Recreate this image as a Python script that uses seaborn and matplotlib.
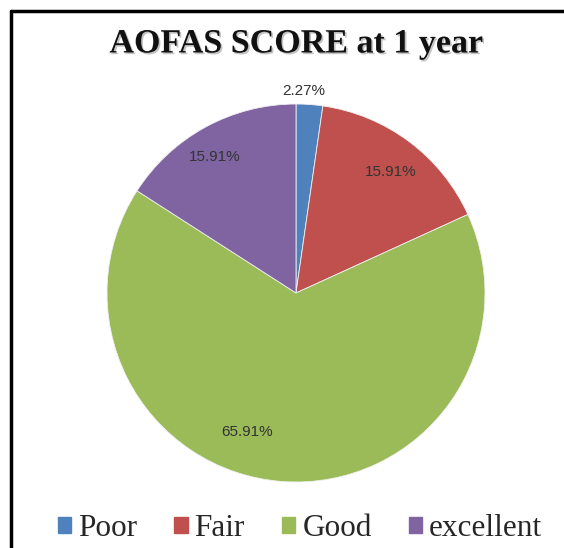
import matplotlib
matplotlib.use("Agg")
import matplotlib.pyplot as plt
import matplotlib.patheffects as pe
from matplotlib.lines import Line2D
import seaborn as sns
import numpy as np

categories = ["Poor", "Fair", "Good", "excellent"]
values = [2.27, 15.91, 65.91, 15.91]
colors = ["#4F81BD", "#C0504D", "#9BBB59", "#8064A2"]
title = "AOFAS SCORE at 1 year"

sns.set_theme(style="white")
plt.rcParams['font.family'] = ['Liberation Serif', 'DejaVu Serif']

fig = plt.figure(figsize=(5.64, 5.48), dpi=100)
ax = fig.add_axes([0, 0, 1, 1])

cx, cy, r = 296, 548 - 293, 189
wedges, texts, autotexts = ax.pie(
    values, colors=colors, startangle=90, counterclock=False,
    center=(cx, cy), radius=r, autopct=lambda p: f"{p:.2f}%",
    pctdistance=0.8, frame=True,
    wedgeprops=dict(edgecolor="#f0f0f0", linewidth=0.6),
    textprops=dict(fontsize=11, color="#333333", family=['Liberation Sans']))
ax.set_xlim(0, 564)
ax.set_ylim(0, 548)
ax.set_aspect('equal')
ax.axis('off')

# label placement (radius fraction, angle in degrees) like Excel best fit
label_pos = [(1.07, 87.7), (0.81, 52.0), (0.78, -109.5), (0.84, 121.0)]
for t, (rf, ang) in zip(autotexts, label_pos):
    a = np.deg2rad(ang)
    t.set_position((cx + rf * r * np.cos(a), cy + rf * r * np.sin(a)))

fig.text(0.525, 1 - 44 / 548, title, ha='center', va='center',
         fontsize=24.5, fontweight='bold', family=['Liberation Serif'],
         color='#111111',
         path_effects=[pe.withSimplePatchShadow(offset=(1.2, -1.2), alpha=0.35, shadow_rgbFace='#555555')])

handles = [plt.Rectangle((0, 0), 1, 1, color=c) for c in colors]
leg = fig.legend(handles, categories, loc='center', bbox_to_anchor=(300 / 564, 1 - 529 / 548),
                 ncol=4, frameon=False, handlelength=0.42, handleheight=0.42,
                 handletextpad=0.22, columnspacing=1.2, borderaxespad=0,
                 prop=dict(family='Liberation Serif', size=22.5))

# frame lines (left and top)
fig.add_artist(Line2D([11 / 564, 11 / 564], [0, 1 - 11 / 548], color='black', lw=2.5, transform=fig.transFigure))
fig.add_artist(Line2D([11 / 564, 1], [1 - 11 / 548, 1 - 11 / 548], color='black', lw=2.5, transform=fig.transFigure))

fig.savefig("out.png", dpi=100)
